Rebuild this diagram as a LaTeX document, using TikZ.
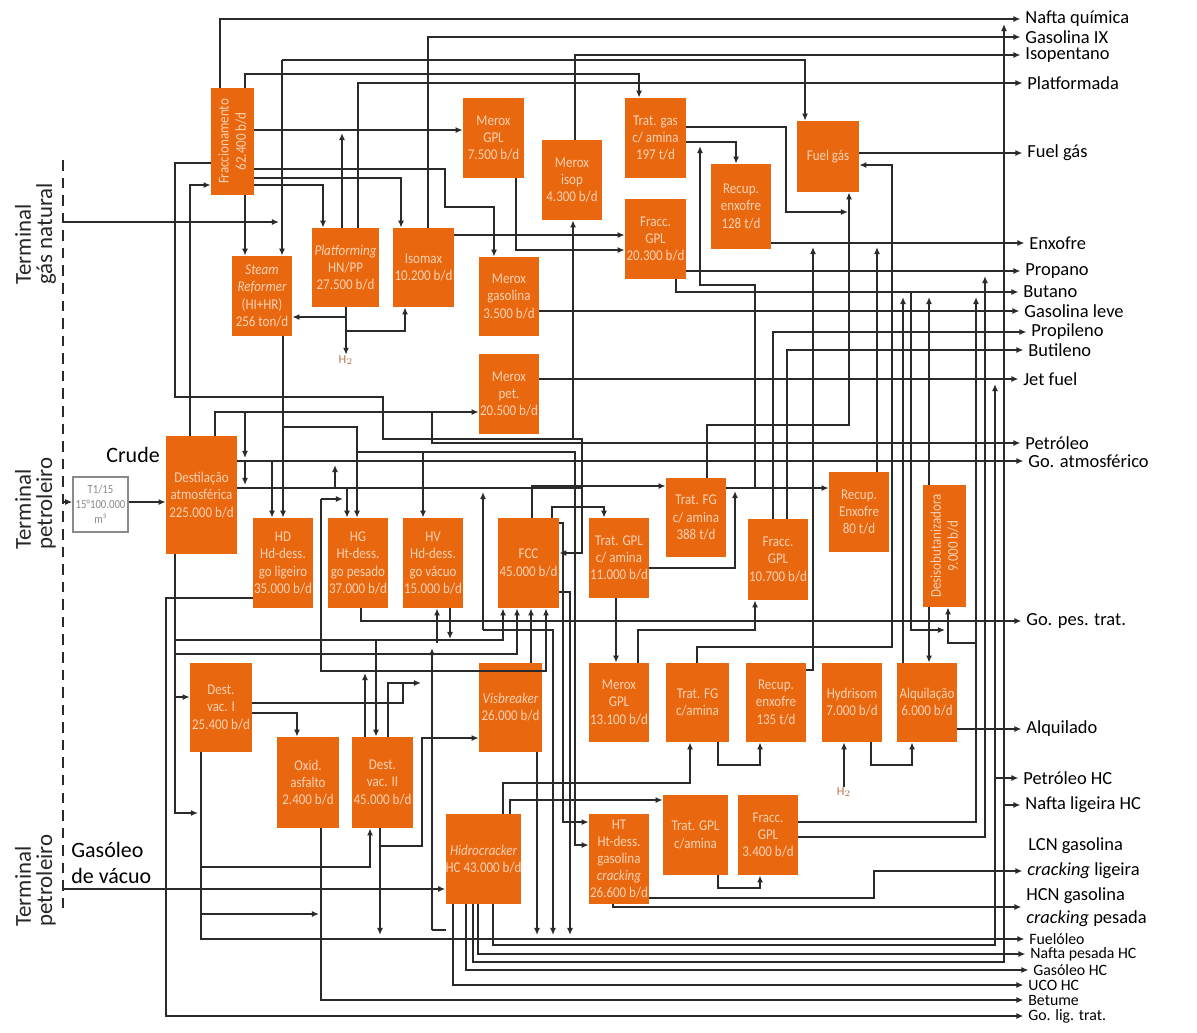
\documentclass[tikz,border=0pt]{standalone}
\usepackage{fontspec}
\setmainfont{Carlito}
\newfontfamily\boxfnt[FakeStretch=0.87]{Carlito}
\usetikzlibrary{arrows.meta}
\definecolor{boxor}{HTML}{E9670E}
\definecolor{boxtx}{HTML}{FBD2B4}
\definecolor{linec}{HTML}{2A2A2A}
\definecolor{htwo}{HTML}{B8764F}
\definecolor{tankc}{HTML}{8A8A8A}
\newcommand\bx[6]{\node[box, minimum width={(#4-#2)*0.02cm}, minimum height={(#5-#3)*0.02cm}] (#1) at ({(#2+#4)/2},{(#3+#5)/2}) {#6};}
\newcommand\bxr[6]{\node[box, rotate=90, minimum height={(#4-#2)*0.02cm}, minimum width={(#5-#3)*0.02cm}] (#1) at ({(#2+#4)/2},{(#3+#5)/2}) {#6};}
\tikzset{
  box/.style={fill=boxor, text=boxtx, font=\boxfnt\fontsize{8.5}{9.8}\selectfont, align=center, inner sep=0pt},
  ln/.style={draw=linec, line width=0.9pt},
  arr/.style={ln, -{Latex[length=4pt,width=3.4pt]}},
  arl/.style={arr, shorten >=0.09cm},
  lbl/.style={font=\fontsize{10.5}{12}\selectfont, anchor=west, inner sep=0pt, text=black},
  lbs/.style={lbl, font=\fontsize{9}{10}\selectfont},
  term/.style={font=\fontsize{13}{15}\selectfont, rotate=90, anchor=base west, inner sep=0pt, text=black!85},
  hlab/.style={font=\fontsize{7}{8}\selectfont, text=htwo, inner sep=0pt},
}
\begin{document}
\begin{tikzpicture}[x=0.02cm,y=-0.02cm]
\useasboundingbox (0,0) rectangle (1197,1032);

% ---------- boxes ----------
\bxr{frac}{211}{88}{254}{195}{Fraccionamento\\62.400 b/d}
\bx{mgpl}{463}{98}{524}{178}{Merox\\GPL\\7.500 b/d}
\bx{misop}{542}{140}{602}{220}{Merox\\isop\\4.300 b/d}
\bx{tgas}{625}{98}{686}{178}{Trat. gas\\c/ amina\\197 t/d}
\bx{renxa}{711}{164}{771}{249}{Recup.\\enxofre\\128 t/d}
\bx{fgpla}{625}{199}{686}{279}{Fracc.\\GPL\\20.300 b/d}
\bx{fuel}{797}{121}{859}{192}{Fuel gás}
\bx{steam}{232}{256}{292}{336}{\itshape Steam\\\itshape Reformer\\(HI+HR)\\256 ton/d}
\bx{plat}{312}{228}{379}{307}{\itshape Platforming\\HN/PP\\27.500 b/d}
\bx{isomax}{393}{228}{454}{307}{Isomax\\10.200 b/d}
\bx{mgas}{479}{257}{539}{336}{Merox\\gasolina\\3.500 b/d}
\bx{mpet}{479}{354}{539}{434}{Merox\\pet.\\20.500 b/d}
\bx{dest}{166}{436}{237}{554}{Destilação\\atmosférica\\225.000 b/d}
\node[draw=tankc, line width=0.9pt, fill=white, text=tankc, align=center, inner sep=0pt,
  font=\boxfnt\fontsize{7}{8.5}\selectfont, minimum width=55*0.02cm, minimum height=55*0.02cm]
  (tank) at (100.5,504.5) {T1/15\\15°100.000\\m³};
\bx{hd}{253}{518}{313}{608}{HD\\Hd-dess.\\go ligeiro\\35.000 b/d}
\bx{hg}{328}{518}{388}{608}{HG\\Ht-dess.\\go pesado\\37.000 b/d}
\bx{hv}{403}{518}{463}{608}{HV\\Hd-dess.\\go vácuo\\15.000 b/d}
\bx{fcc}{498}{518}{559}{608}{FCC\\45.000 b/d}
\bx{tgpla}{589}{518}{649}{598}{Trat. GPL\\c/ amina\\11.000 b/d}
\bx{tfga}{666}{478}{726}{557}{Trat. FG\\c/ amina\\388 t/d}
\bx{fgplb}{748}{519}{808}{600}{Fracc.\\GPL\\10.700 b/d}
\bx{renxb}{829}{472}{889}{552}{Recup.\\Enxofre\\80 t/d}
\bxr{desiso}{923}{485}{966}{607}{Desisobutanizadora\\9.000 b/d}
\bx{dva}{190}{663}{252}{752}{Dest.\\vac. I\\25.400 b/d}
\bx{oxid}{277}{737}{339}{828}{Oxid.\\asfalto\\2.400 b/d}
\bx{dvb}{352}{737}{413}{828}{Dest.\\vac. II\\45.000 b/d}
\bx{visb}{479}{663}{542}{752}{\itshape Visbreaker\\26.000 b/d}
\bx{mgplb}{589}{663}{649}{742}{Merox\\GPL\\13.100 b/d}
\bx{tfgb}{666}{663}{729}{742}{Trat. FG\\c/amina}
\bx{renxc}{746}{663}{806}{742}{Recup.\\enxofre\\135 t/d}
\bx{hydr}{822}{663}{882}{742}{Hydrisom\\7.000 b/d}
\bx{alq}{897}{663}{957}{742}{Alquilação\\6.000 b/d}
\bx{hc}{446}{814}{521}{904}{\itshape Hidrocracker\\HC 43.000 b/d}
\bx{ht}{589}{814}{649}{904}{HT\\Ht-dess.\\gasolina\\\itshape cracking\\26.600 b/d}
\bx{tgplb}{663}{795}{728}{875}{Trat. GPL\\c/amina}
\bx{fgplc}{738}{795}{798}{875}{Fracc.\\GPL\\3.400 b/d}

% ---------- left texts ----------
\draw[ln, dash pattern=on 6pt off 4pt] (63,160) -- (63,915);
\node[term] (t1a) at (31,285) {Terminal};
\node[term] (t1b) at (52,285) {gás natural};
\node[term] (t2a) at (31,550) {Terminal};
\node[term] (t2b) at (52,550) {petroleiro};
\node[term] (t3a) at (31,927) {Terminal};
\node[term] (t3b) at (52,927) {petroleiro};
\node[font=\fontsize{12.5}{14}\selectfont, anchor=west, inner sep=0pt] (crude) at (106,455) {Crude};
\node[font=\fontsize{12.5}{14}\selectfont, anchor=west, inner sep=0pt] (gv1) at (71,850) {Gasóleo};
\node[font=\fontsize{12.5}{14}\selectfont, anchor=west, inner sep=0pt] (gv2) at (71,876) {de vácuo};
\node[hlab] (h2a) at (346,360) {H$_2$};
\node[hlab] (h2b) at (844,792) {H$_2$};
\coordinate (gnin) at (63,222);
\coordinate (crin) at (63,502);
\coordinate (gvin) at (63,889);

% ---------- right labels ----------
\node[lbl] (oNq) at (1025,19) {Nafta química};
\node[lbl] (oGix) at (1025,37) {Gasolina IX};
\node[lbl] (oIso) at (1025,55) {Isopentano};
\node[lbl] (oPlat) at (1027,83) {Platformada};
\node[lbl] (oFg) at (1027,153) {Fuel gás};
\node[lbl] (oEnx) at (1029,243) {Enxofre};
\node[lbl] (oProp) at (1025,271) {Propano};
\node[lbl] (oBut) at (1023,292) {Butano};
\node[lbl] (oGl) at (1024,311) {Gasolina leve};
\node[lbl] (oPpl) at (1031,332) {Propileno};
\node[lbl] (oBtl) at (1028,350) {Butileno};
\node[lbl] (oJet) at (1023,379) {Jet fuel};
\node[lbl] (oPet) at (1025,443) {Petróleo};
\node[lbl] (oGoa) at (1028,461) {Go. atmosférico};
\node[lbl] (oGop) at (1026,621) {Go. pes. trat.};
\node[lbl] (oAlq) at (1026,729) {Alquilado};
\node[lbl] (oPhc) at (1023,778) {Petróleo HC};
\node[lbl] (oNlh) at (1025,805) {Nafta ligeira HC};
\node[lbl] (oLcn) at (1028,846) {LCN gasolina};
\node[lbl] (oLcr) at (1027,871) {\textit{cracking} ligeira};
\node[lbl, align=left] (oHcn) at (1026,907) {HCN gasolina\\[1pt]\textit{cracking} pesada};
\node[lbs] (oFo) at (1029,939) {Fuelóleo};
\node[lbs] (oNph) at (1030,954) {Nafta pesada HC};
\node[lbs] (oGhc) at (1033,970) {Gasóleo HC};
\node[lbs] (oUco) at (1028,985) {UCO HC};
\node[lbs] (oBet) at (1028,1000) {Betume};
\node[lbs] (oGlt) at (1028,1016) {Go. lig. trat.};

% ---------- connectors: top ----------
\draw[arl] (frac.east -| 220,0) |- (oNq.west);
\draw[arl] (isomax.north -| 428,0) |- (oGix.west);
\draw[arl] (misop.north -| 575,0) |- (oIso.west);
\draw[arr] (gnin) -- (279,222);
\draw[arr] (282,60) -- (steam.north -| 282,0);
\draw[arr] (282,60) -- (805,60) -- (fuel.north -| 805,0);
\draw[arr] (frac.east -| 245,0) |- (639,74) -- (tgas.north -| 639,0);
\draw[arl] (plat.north -| 358,0) |- (oPlat.west);
\draw[arr] (frac.south |- 0,130) -- (mgpl.west |- 0,130);
\draw[arr] (plat.north -| 342,0) -- (342,133);
\draw[arr] (frac.south |- 0,169) -- (445,169) -- (445,207) -- (494,207) -- (mgas.north -| 494,0);
\draw[arr] (frac.south |- 0,178) -- (401,178) -- (isomax.north -| 401,0);
\draw[arr] (frac.south |- 0,185) -- (323,185) -- (plat.north -| 323,0);
\draw[arr] (frac.north |- 0,163) -- (175,163) -- (175,397) -- (383,397) -- (383,439) -- (582,439) -- (582,553) -- (fcc.east |- 0,553);
\draw[arr] (573,439) -- (misop.south -| 573,0);
\draw[arr] (dest.north -| 190,0) -- (190,185) -- (frac.north |- 0,185);
\draw[arr] (frac.west -| 245,0) -- (steam.north -| 245,0);
\draw[arr] (plat.south -| 346,0) -- (h2a.north);
\draw[arr] (346,317) -- (steam.east |- 0,317);
\draw[arr] (346,331) -- (405,331) -- (isomax.south -| 405,0);
\draw[arr] (steam.south -| 283,0) -- (hd.north -| 283,0);
\draw[arr] (tgas.east |- 0,127) -- (786,127) -- (786,212) -- (848,212);
\draw[arr] (tgas.east |- 0,142) -- (736,142) -- (renxa.north -| 736,0);
\draw[arr] (tfga.east |- 0,488) -- (755,488) -- (755,285) -- (700,285) -- (700,146);
\draw[arr] (tgpla.east |- 0,568) -- (735,568) -- (735,491);
\draw[arl] (renxa.east |- 0,243) -- (oEnx.west);
\draw[arr] (mgpl.south -| 516,0) -- (516,250) -- (fgpla.west |- 0,250);
\draw[arr] (isomax.east |- 0,235) -- (fgpla.west |- 0,235);
\draw[arl] (fgpla.east |- 0,271) -- (oProp.west);
\draw[arl] (fgpla.south -| 676,0) |- (oBut.west);
\draw[arl] (mgas.east |- 0,311) -- (oGl.west);
\draw[arl] (fgplb.north -| 773,0) |- (oPpl.west);
\draw[arl] (fgplb.north -| 787,0) |- (oBtl.west);
\draw[arl] (mpet.east |- 0,379) -- (oJet.west);
\draw[arr] (dest.north -| 215,0) -- (215,412) -- (mpet.west |- 0,412);
\draw[arl] (432,412) -- (432,443) -- (oPet.west);
\draw[arl] (dest.east |- 0,461) -- (oGoa.west);
\draw[arr] (tfga.north -| 707,0) -- (707,425) -- (849,425) -- (fuel.south -| 849,0);
\draw[arr] (tfgb.north -| 697,0) -- (697,647) -- (892,647) -- (892,165) -- (fuel.east |- 0,165);
\draw[arl] (fuel.east |- 0,153) -- (oFg.west);
\draw[arr] (renxb.north -| 877,0) -- (877,247);
\draw[arr] (renxc.east |- 0,670) -- (813,670) -- (813,247);
\draw[arr] (755,488) -- (renxb.west |- 0,488);
\draw[arr] (fcc.north -| 532,0) -- (532,486) -- (tfga.west |- 0,486);
\draw[arr] (fcc.north -| 552,0) -- (552,507) -- (604,507) -- (tgpla.north -| 604,0);
\draw[arr] (tgpla.south -| 616,0) -- (mgplb.north -| 616,0);
\draw[arr] (mgplb.north -| 638,0) -- (638,630) -- (755,630) -- (fgplb.south -| 755,0);
\draw[arr] (hc.north -| 503,0) -- (503,783) -- (690,783) -- (tfgb.south -| 690,0);
\draw[arr] (hc.north -| 510,0) -- (510,800) -- (tgplb.west |- 0,800);
\draw[arr] (tfgb.south -| 718,0) -- (718,765) -- (760,765) -- (renxc.south -| 760,0);
\draw[arr] (h2b.north) -- (hydr.south -| 844,0);
\draw[arr] (hydr.south -| 871,0) -- (871,765) -- (912,765) -- (alq.south -| 912,0);
\draw[arl] (alq.east |- 0,729) -- (oAlq.west);
\draw[arr] (alq.north -| 903,0) -- (903,297);
\draw[arr] (desiso.east -| 929,0) -- (929,297);
\draw[arr] (911,292) -- (911,630) -- (945,630);
\draw[arr] (976,643) -- (948,643) -- (desiso.west -| 948,0);
\draw[arr] (desiso.west -| 929,0) -- (alq.north -| 929,0);
\draw[arr] (fgplc.east |- 0,822) -- (976,822) -- (976,297);
\draw[arr] (fgplc.east |- 0,837) -- (985,837) -- (985,276);
\draw[arr] (tgplb.south -| 718,0) -- (718,888) -- (760,888) -- (fgplc.south -| 760,0);
\draw[arl] (ht.east |- 0,898) -- (874,898) -- (874,871) -- (oLcr.west);
\draw[arl] (ht.south -| 613,0) -- (613,907) -- (oHcn.west);
% hydrocracker products
\draw[arl] (hc.south -| 453,0) |- (oUco.west);
\draw[arl] (hc.south -| 466,0) |- (oGhc.west);
\draw[arl] (hc.south -| 478,0) |- (oNph.west);
\draw[arr] (hc.south -| 473,0) -- (473,962) -- (1004,962) -- (1004,24);
\draw[arr] (hc.south -| 493,0) -- (493,945) -- (995,945) -- (995,384);
\draw[arl] (1004,805) -- (oNlh.west);
\draw[arl] (995,778) -- (oPhc.west);
\draw[arr] (gvin) -- (hc.west |- 0,889);
% crude
\draw[arr] (crin) -- (tank.west |- 0,502);
\draw[arr] (tank.east |- 0,502) -- (dest.west |- 0,502);
% lower left
\draw[arl] (oxid.south -| 321,0) |- (oBet.west);
\draw[arl] (hd.west |- 0,598) -- (166,598) |- (oGlt.west);
\draw[arr] (dest.south -| 175,0) -- (175,813) -- (198,813);
\draw[arr] (175,640) -- (376,640) -- (dvb.north -| 376,0);
\draw[arr] (376,640) -- (503,640) -- (fcc.south -| 503,0);
\draw[arr] (175,654) -- (517,654) -- (fcc.south -| 517,0);
\draw[arr] (175,697) -- (dva.west |- 0,697);
\draw[arl] (dva.south -| 201,0) |- (oFo.west);
\draw[arr] (201,867) -- (370,867) -- (dvb.south -| 370,0);
\draw[arr] (201,914) -- (319,914);
\draw[arr] (dvb.south -| 380,0) -- (380,935);
\draw[arr] (380,846) -- (422,846) -- (422,738) -- (visb.west |- 0,738);
\draw[arr] (dva.east |- 0,713) -- (297,713) -- (oxid.north -| 297,0);
\draw[ln] (dva.east |- 0,703) -- (403,703) -- (403,683);
\draw[arr] (dvb.north -| 388,0) -- (388,683) -- (421,683);
\draw[arr] (dvb.north -| 365,0) -- (365,673);
\draw[ln] (321,499) -- (321,671) -- (546,671);
\draw[arr] (321,499) -- (343,499);
\draw[arl] (hg.south -| 361,0) |- (oGop.west);
\draw[arr] (visb.north -| 531,0) -- (fcc.south -| 531,0);
\draw[arr] (visb.east |- 0,671) -- (546,671) -- (fcc.south -| 546,0);
\draw[arr] (visb.south -| 537,0) -- (537,935);
% middle region
\draw[arr] (245,412) -- (245,458);
\draw[arr] (245,461) -- (245,485);
\draw[arr] (283,427) -- (357,427) -- (hg.north -| 357,0);
\draw[arr] (358,452) -- (423,452) -- (hv.north -| 423,0);
\draw[arr] (423,452) -- (575,452) -- (575,845) -- (ht.west |- 0,845);
\draw[arr] (272,461) -- (hd.north -| 272,0);
\draw[ln] (dest.east |- 0,488) -- (582,488);
\draw[arr] (347,488) -- (hg.north -| 347,0);
\draw[arr] (335,488) -- (335,465);
\draw[arr] (fcc.east |- 0,523) -- (563,523) -- (563,822) -- (ht.west |- 0,822);
\draw[arr] (fcc.east |- 0,592) -- (570,592) -- (570,935);
\draw[arr] (483,630) -- (483,492);
\draw[arr] (483,630) -- (553,630) -- (553,935);
\draw[arr] (hv.south -| 450,0) -- (450,639);
\draw[arr] (437,643) -- (hv.south -| 437,0);
\draw[arr] (432,930) -- (432,648);
\draw[ln] (432,930) -- (446,930);
\end{tikzpicture}
\end{document}
